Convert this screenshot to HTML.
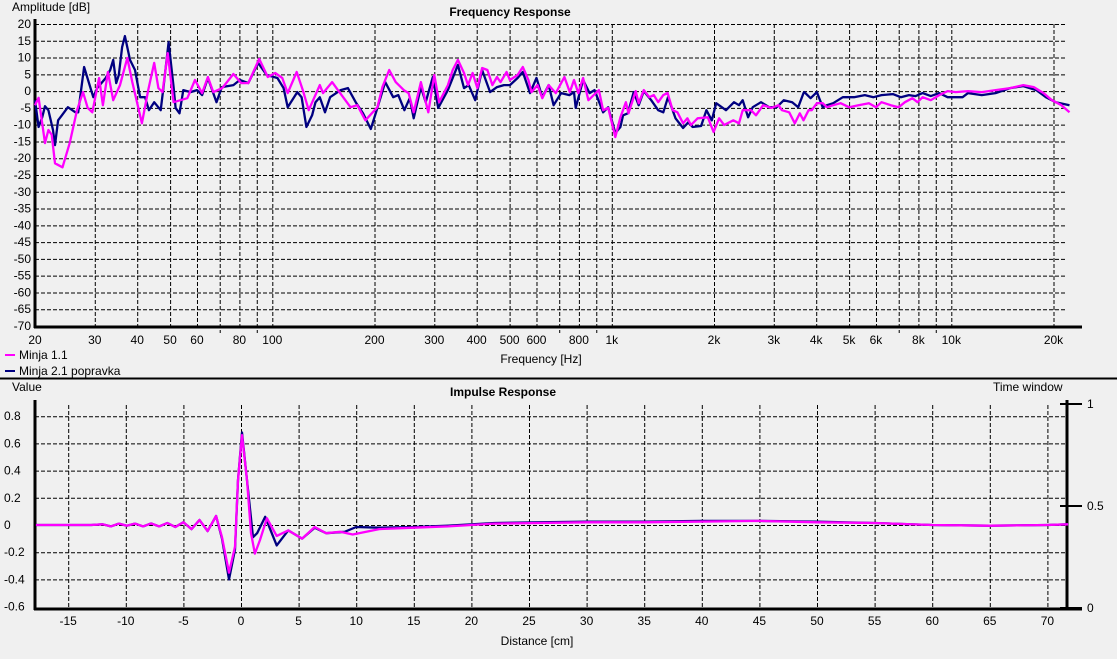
<!DOCTYPE html>
<html><head><meta charset="utf-8">
<style>
html,body{margin:0;padding:0;background:#f0f0f0;}
svg{display:block;font-family:"Liberation Sans",sans-serif;font-size:12px;}
</style></head>
<body>
<svg id="c" width="1117" height="659" viewBox="0 0 1117 659">
<rect x="0" y="0" width="1117" height="659" fill="#f0f0f0"/>
<text x="510" y="16" text-anchor="middle" font-weight="bold">Frequency Response</text>
<text x="12" y="11">Amplitude [dB]</text>
<text x="541" y="363" text-anchor="middle">Frequency [Hz]</text>
<g>
<line x1="5" y1="355" x2="15" y2="355" stroke="#ff00ff" stroke-width="2"/>
<text x="19" y="359">Minja 1.1</text>
<line x1="5" y1="371" x2="15" y2="371" stroke="#000080" stroke-width="2"/>
<text x="19" y="375">Minja 2.1 popravka</text>
</g>
<line x1="0" y1="378.5" x2="1117" y2="378.5" stroke="#000" stroke-width="2"/>
<text x="503" y="396" text-anchor="middle" font-weight="bold">Impulse Response</text>
<text x="12" y="391">Value</text>
<text x="993" y="391">Time window</text>
<text x="537" y="645" text-anchor="middle">Distance [cm]</text>
<g id="fr"></g>
<g id="ir"></g>
</svg>
<script>
// ---- Frequency response data ----
const frYTicks = [20,15,10,5,0,-5,-10,-15,-20,-25,-30,-35,-40,-45,-50,-55,-60,-65,-70];
const frGridFreqs = [20,30,40,50,60,70,80,90,100,200,300,400,500,600,700,800,900,1000,2000,3000,4000,5000,6000,7000,8000,9000,10000,20000];
const frLabelFreqs = [20,30,40,50,60,80,100,200,300,400,500,600,800,1000,2000,3000,4000,5000,6000,8000,10000,20000];
const frLabelText = ["20","30","40","50","60","80","100","200","300","400","500","600","800","1k","2k","3k","4k","5k","6k","8k","10k","20k"];
const magFreq = [20,20.5,21.4,21.9,22.4,22.9,24.1,25.3,26.6,27.7,28.6,29.5,30.9,31.7,32.8,34,35.6,37.4,38.7,41.3,43.1,44.9,46.2,47.5,49.2,51.2,56.2,59.2,62.1,64.6,67,71.2,76.8,81,85,91.5,97,102,107,111,118,123,128,138,141,150,156,170,178,188,204,211,221,231,244,252,261,274,288,300,310,329,340,352,367,377,389,402,415,430,445,459,470,490,501,528,547,568,580,604,624,652,684,725,752,774,797,823,853,916,943,976,1024,1060,1100,1120,1176,1200,1242,1290,1330,1370,1418,1460,1511,1560,1622,1670,1711,1790,1917,1995,2070,2142,2279,2370,2430,2570,2660,2790,2950,3100,3170,3330,3460,3580,3670,3800,3880,4020,4180,4300,4490,4720,5000,5330,5720,6000,6230,6630,7000,7300,7680,7950,8230,8700,9220,9750,10300,11200,12300,13500,14900,16300,17500,18700,19800,21100,22300];
const magDb = [-4.2,-2,-15.5,-11.6,-13,-21.5,-22.7,-15.5,-5.7,-0.3,-5,-6.3,3.9,-4.2,5.7,-2.7,1.8,9.9,2.7,-9.6,0.3,8.4,0.9,-0.3,11.3,-3.3,-2.1,3.3,-0.6,4.2,-0.3,0.9,5.1,2.4,2.4,9.6,4.2,5.4,3.9,-0.6,5.7,0.3,-5.7,1.8,-0.6,2.7,0.3,-4.8,-4.2,-8.7,-4.8,1.2,6.3,2.7,0.3,-0.6,-6.3,2.7,-6.3,4.8,-3.3,1.8,6.3,9.3,5.4,1.8,5.4,0.9,6.9,6.3,1.8,4.2,2.7,5.7,3.3,4.8,7.2,3.3,-0.3,1.8,-2.1,1.8,-0.6,4.2,-0.3,3.3,-0.6,3.9,-2.7,0.3,-5.7,-5,-13.7,-7.8,-3.3,-6.6,0,-3.6,0.3,-1.8,-1.2,-3.3,-1.2,-0.6,-5.7,-6.3,-9.6,-8.1,-10.1,-8.1,-7.8,-12.2,-8.1,-10.1,-8.7,-9.6,-5.7,-5.7,-7.2,-4.2,-5,-4.2,-5.7,-6.3,-9.6,-6.6,-8.7,-5.7,-5.7,-3.6,-3.6,-4.8,-4.2,-3.6,-4.8,-4.2,-3.6,-4.8,-3.3,-4.2,-4.8,-3.3,-2.1,-3.3,-1.8,-2.7,-1.2,0,-0.3,0,-0.3,0.3,0.9,1.8,1.2,-0.6,-2.7,-4.2,-6.3];
const bluFreq = [20,20.5,21,21.4,21.9,22.6,22.9,23.4,24,25,26.3,26.8,27.9,29.7,30.5,32.3,33.3,34,34.7,35.3,36.1,36.8,38.1,39.4,40.8,42.2,43.3,44.9,46.9,47.8,49.5,51.2,51.9,53.3,54.7,57.4,60,62.1,64.6,68.5,71,76.8,80.2,85,90.8,96.3,103.5,108,111,118.5,122,126,131,134,138,143,148,159,167,176,185,195,204,215,227,235,245,254,261,274,283,297,308,329,352,367,379,396,415,438,459,481,501,528,547,574,600,624,652,674,709,750,774,783,823,860,889,943,976,1024,1060,1080,1115,1160,1200,1242,1306,1370,1418,1464,1540,1622,1680,1730,1832,1900,1970,2030,2170,2290,2370,2430,2520,2600,2750,2910,3060,3210,3400,3540,3670,3690,3850,4020,4180,4300,4490,4790,5170,5560,5900,6230,6730,7100,7500,7850,8230,8700,9220,9750,10800,11200,12300,13500,14900,16300,17800,19000,20300,22300];
const bluDb = [-2.7,-10.7,-7.8,-4.5,-5.7,-11.6,-16.1,-8.7,-7.2,-4.8,-6.3,-6.3,7.2,-1.8,0.9,3.9,6.3,9.3,2.4,4.8,13.1,16.4,9.3,6.3,-1.8,-1.8,-5.7,-3.3,-5.7,1.2,14.6,1.2,-5,-6.6,0.3,-0.3,0.3,-1.2,3.9,-3.3,1.2,1.8,3.3,2.4,8.4,4.8,3.9,0.9,-4.8,-0.3,-1.8,-10.7,-7.2,-3.3,-1.8,-6.3,-1.8,0.3,0.9,-3.3,-6.6,-11.3,-5,2.7,-1.8,-1.2,-5.7,-2.1,-8.1,1.2,-3.3,4.2,-5,0.3,7.8,0.9,1.8,-2.7,6.3,-0.3,1.2,1.8,1.8,3.9,5.7,-0.6,3.9,-1.8,1.8,-4.2,-0.6,-1.2,-0.3,-5,3.3,-0.6,0.3,-6.3,-4.8,-12.5,-10.7,-7.2,-6.6,-0.3,-4.2,0,-2.7,-5.7,-6.3,-1.8,-8.1,-11,-9.3,-10.7,-10.4,-5.7,-8.7,-3.6,-5.7,-3.3,-4.2,-2.7,-7.8,-4.8,-3.3,-4.8,-4.8,-2.7,-3.3,-4.8,-0.6,-0.3,-2.1,-0.3,-4.8,-4.2,-3.6,-1.8,-1.8,-1.2,-1.8,-1.2,-0.9,-1.8,-1.2,-1.5,-0.6,-1.5,-0.6,-1.8,-1.8,-0.6,-1.2,-0.6,0.9,1.5,0.3,-1.8,-3.3,-4.2];

// ---- Impulse response data ----
const irYTicks = [0.8,0.6,0.4,0.2,0,-0.2,-0.4,-0.6];
const irYLabels = ["0.8","0.6","0.4","0.2","0","-0.2","-0.4","-0.6"];
const irXTicks = [-15,-10,-5,0,5,10,15,20,25,30,35,40,45,50,55,60,65,70];
const twTicks = [1,0.5,0];
const twLabels = ["1","0.5","0"];
const irMagCm = [-17.8,-13,-12,-11.3,-10.6,-9.9,-9.2,-8.5,-7.8,-7.1,-6.4,-5.7,-5,-4.3,-3.6,-2.9,-2.16,-1.65,-1.04,-0.52,-0.26,0.09,0.52,0.87,1.21,1.65,2.25,3.1,4.1,5.3,6.4,7.4,8.6,9.7,12,15,18,22,26,30,35,40,45,50,55,60,65,70,71.8];
const irMagVal = [0,0,0.005,-0.01,0.01,-0.005,0.01,-0.01,0.012,-0.01,0.015,-0.015,0.02,-0.03,0.037,-0.045,0.066,-0.09,-0.35,-0.16,0.33,0.66,0.33,-0.06,-0.21,-0.11,0.05,-0.08,-0.04,-0.1,-0.015,-0.06,-0.05,-0.07,-0.03,-0.02,-0.01,0.01,0.015,0.02,0.02,0.025,0.03,0.02,0.015,0,-0.005,0,0.005];
const irBluCm = [-17.8,-13,-12,-11.3,-10.6,-9.9,-9.2,-8.5,-7.8,-7.1,-6.4,-5.7,-5,-4.3,-3.6,-2.9,-2.16,-1.65,-1.04,-0.52,-0.26,0.09,0.52,1.04,1.4,2.1,3.1,4.1,5.3,6.4,7.4,9,10,12,15,18,22,26,30,35,40,45,50,55,60,65,70,71.8];
const irBluVal = [0,0,0.005,-0.01,0.01,-0.005,0.01,-0.01,0.012,-0.01,0.015,-0.015,0.02,-0.03,0.037,-0.045,0.066,-0.1,-0.4,-0.18,0.33,0.68,0.33,-0.09,-0.06,0.06,-0.15,-0.04,-0.1,-0.02,-0.06,-0.05,-0.015,-0.02,-0.015,-0.005,0.015,0.02,0.025,0.025,0.03,0.03,0.025,0.015,0,-0.005,0,0.005];

const NS = "http://www.w3.org/2000/svg";
function mk(tag, attrs, parent){const e=document.createElementNS(NS,tag);for(const k in attrs)e.setAttribute(k,attrs[k]);parent.appendChild(e);return e;}

// FR axes
const FL=35, FR_R=1066, FT=24, FB=326;
const fx = f => FL + (Math.log10(f) - Math.log10(20)) * 339.5;
const fy = d => FT + (20 - d) * (FB - FT) / 90;
const fr = document.getElementById('fr');
frYTicks.forEach(v=>{
  if(v>-70){const l=mk('line',{x1:FL,x2:FR_R,y1:fy(v)+0.5,y2:fy(v)+0.5,stroke:'#000','stroke-width':1,'stroke-dasharray':'4,2'},fr);
  
  }
  const t=mk('text',{x:31,y:fy(v)+4,'text-anchor':'end'},fr); t.textContent=v;
  
  
});
frGridFreqs.forEach(f=>{
  const labeled = frLabelFreqs.indexOf(f)>=0;
  const l=mk('line',{x1:fx(f)+0.5,x2:fx(f)+0.5,y1:FT,y2:labeled?FB:FB+7,stroke:'#000','stroke-width':1,'stroke-dasharray':'4,2'},fr);
  
  
});
frLabelFreqs.forEach((f,i)=>{
  const t=mk('text',{x:fx(f),y:FB+18,'text-anchor':'middle'},fr); t.textContent=frLabelText[i];
  
  
});
let a=mk('line',{x1:FL,x2:FL,y1:19,y2:FB+2,stroke:'#000','stroke-width':3},fr);


a=mk('line',{x1:FL-1,x2:1082,y1:FB+1,y2:FB+1,stroke:'#000','stroke-width':3},fr);


function pts(xs,ys,X,Y){return xs.map((v,i)=>X(v).toFixed(1)+','+Y(ys[i]).toFixed(1)).join(' ');}
let p=mk('polyline',{points:pts(bluFreq,bluDb,fx,fy),fill:'none',stroke:'#000080','stroke-width':2.3,'stroke-linejoin':'round'},fr);


p=mk('polyline',{points:pts(magFreq,magDb,fx,fy),fill:'none',stroke:'#ff00ff','stroke-width':2.3,'stroke-linejoin':'round'},fr);



// IR axes
const IL=35, IR_R=1067, IB=608;
const ix = c => 241 + c * 11.52;
const iy = v => 525 - v * 136;
const ty = w => 608 - w * 204;
const ir = document.getElementById('ir');
irYTicks.forEach((v,i)=>{
  if(v>-0.6){const l=mk('line',{x1:IL,x2:IR_R,y1:iy(v)+0.5,y2:iy(v)+0.5,stroke:'#000','stroke-width':1,'stroke-dasharray':'4,2'},ir);
  
  }
  const t=mk('text',{x:4,y:iy(v)+4},ir); t.textContent=irYLabels[i];
  
  
});
irXTicks.forEach(c=>{
  const l=mk('line',{x1:ix(c)+0.5,x2:ix(c)+0.5,y1:405,y2:IB,stroke:'#000','stroke-width':1,'stroke-dasharray':'4,2'},ir);
  
  
  const t=mk('text',{x:ix(c),y:IB+17,'text-anchor':'middle'},ir); t.textContent=c;
  
  
});
a=mk('line',{x1:IL,x2:IL,y1:400,y2:IB+2,stroke:'#000','stroke-width':3},ir);


a=mk('line',{x1:IL-1,x2:1082,y1:IB+1,y2:IB+1,stroke:'#000','stroke-width':3},ir);


a=mk('line',{x1:IR_R,x2:IR_R,y1:400,y2:IB+1,stroke:'#000','stroke-width':3},ir);


twTicks.forEach((w,i)=>{
  const l=mk('line',{x1:IR_R-7,x2:1082,y1:ty(w),y2:ty(w),stroke:'#000','stroke-width':2},ir);
  
  
  const t=mk('text',{x:1087,y:ty(w)+4},ir); t.textContent=twLabels[i];
  
  
});
p=mk('polyline',{points:pts(irBluCm,irBluVal,ix,iy),fill:'none',stroke:'#000080','stroke-width':2.3,'stroke-linejoin':'round'},ir);


p=mk('polyline',{points:pts(irMagCm,irMagVal,ix,iy),fill:'none',stroke:'#ff00ff','stroke-width':2.3,'stroke-linejoin':'round'},ir);


</script>
</body></html>
